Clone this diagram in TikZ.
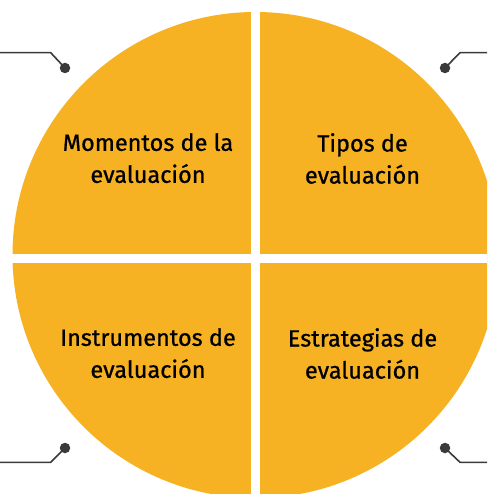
\documentclass[tikz,border=0pt]{standalone}
\usepackage{fontspec}
\setmainfont{Fira Sans}
\newfontfamily\quadfont[FakeBold=0.8]{Fira Sans}
\definecolor{quadorange}{HTML}{F6B222}
\definecolor{pindark}{HTML}{3A3A3A}

\begin{document}
\begin{tikzpicture}[x=1pt, y=-1pt,
    pindot/.style = {circle, fill=pindark, inner sep=0pt, minimum size=10.5pt},
    pinline/.style = {draw=pindark, line width=1.6pt},
    quadtext/.style = {font=\quadfont\fontsize{23.5}{32}\selectfont, align=center,
                       inner sep=0pt, anchor=north}
     ]
  \useasboundingbox (0,0) rectangle (487,494);
  \begin{scope}
    \clip (0,0) rectangle (487,494);
    \fill[quadorange] (255.5,255) circle[radius=243pt];
  \end{scope}
  % white cross between the four parts
  \fill[white] (251,0) rectangle (260,494);
  \fill[white] (0,254.3) rectangle (487,263.3);

  \node[quadtext] (momentos) at (148,133) {Momentos de la\\evaluación};
  \node[quadtext] (tipos) at (362.5,133) {Tipos de\\evaluación};
  \node[quadtext] (instrumentos) at (148,328) {Instrumentos de\\evaluación};
  \node[quadtext] (estrategias) at (362.5,328) {Estrategias de\\evaluación};

  % pins
  \node[pindot] (dot-tl) at (65,68) {};
  \node[pindot] (dot-tr) at (445,68) {};
  \node[pindot] (dot-bl) at (65,448) {};
  \node[pindot] (dot-br) at (445,448) {};
  \coordinate (bend-tl) at (50.7,52.7);
  \coordinate (bend-tr) at (460,52.7);
  \coordinate (bend-bl) at (50.7,462.3);
  \coordinate (bend-br) at (460,462.3);
  \coordinate (end-tl) at (0,52.7);
  \coordinate (end-tr) at (487,52.7);
  \coordinate (end-bl) at (0,462.3);
  \coordinate (end-br) at (487,462.3);
  \foreach \c in {tl,tr,bl,br}
    \draw[pinline] (end-\c) -- (bend-\c) -- (dot-\c.center);
\end{tikzpicture}
\end{document}
